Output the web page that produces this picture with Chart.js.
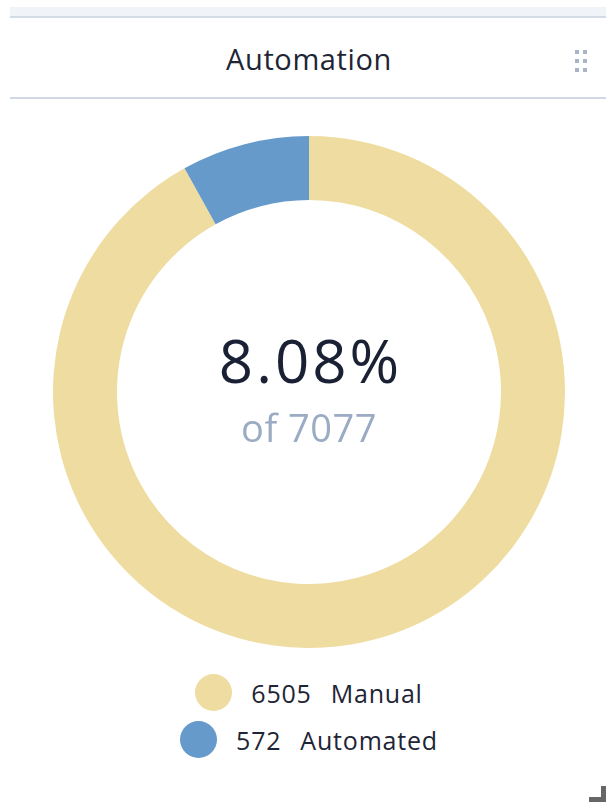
<!DOCTYPE html>
<html>
<head>
<meta charset="utf-8">
<script src="https://cdn.jsdelivr.net/npm/chart.js@4.4.1/dist/chart.umd.min.js"></script>
<style>
  html, body { margin: 0; padding: 0; background: #fff; width: 606px; height: 807px; overflow: hidden; font-family: "Open Sans", "Noto Sans", sans-serif; }
  .topband { position: absolute; left: 10px; top: 7px; width: 596px; height: 9px; background: #f0f4f8; border-bottom: 2px solid #d3dce6; }
  .title { position: absolute; left: 10px; width: 598px; top: 39px; height: 40px; line-height: 40px; text-align: center; font-size: 29px; letter-spacing: 0.6px; color: #1e2535; }
  .hline { position: absolute; left: 10px; top: 97px; width: 596px; height: 2px; background: #cfd8e3; }
  .grip { position: absolute; left: 575px; top: 50px; width: 13px; height: 22px; }
  .grip span { position: absolute; width: 4px; height: 4px; background: #a9b5c7; }
  .chartbox { position: absolute; left: 53px; top: 136px; width: 512px; height: 512px; }
  .center { position: absolute; left: 0; width: 618px; text-align: center; }
  #pct { top: 320px; font-size: 60px; line-height: 80px; letter-spacing: 3px; text-indent: 3px; color: #1a2134; }
  #total { top: 401px; font-size: 38px; line-height: 52px; letter-spacing: 0.5px; color: #9aabc3; }
  .legend { position: absolute; left: 0; top: 669px; width: 618px; }
  .legend .row { display: flex; justify-content: center; align-items: center; height: 47px; font-size: 25px; letter-spacing: 0.8px; color: #1e2535; }
  .legend .dot { width: 37px; height: 37px; border-radius: 50%; margin-right: 19px; }
  .legend .num { margin-right: 19px; }
  .corner { position: absolute; left: 589px; top: 786px; width: 17px; height: 16px; }
  .corner .v { position: absolute; right: 0; top: 0; width: 5px; height: 16px; background: #666; }
  .corner .h { position: absolute; left: 0; bottom: 0; width: 17px; height: 5px; background: #666; }
</style>
</head>
<body>
<div class="topband"></div>
<div class="title">Automation</div>
<div class="grip">
  <span style="left:0;top:0"></span><span style="left:8px;top:0"></span>
  <span style="left:0;top:9px"></span><span style="left:8px;top:9px"></span>
  <span style="left:0;top:18px"></span><span style="left:8px;top:18px"></span>
</div>
<div class="hline"></div>
<div class="chartbox"><canvas id="donut" width="512" height="512"></canvas></div>
<div class="center" id="pct"></div>
<div class="center" id="total"></div>
<div class="legend" id="legend"></div>
<div class="corner"><div class="v"></div><div class="h"></div></div>

<script>
// datos del grafico
const categorias = ['Manual', 'Automated'];
const valores = [6505, 572];
const colores = ['rgb(238, 220, 161)', 'rgb(101, 154, 203)'];

const total = valores.reduce((a, b) => a + b, 0);
document.getElementById('pct').textContent = (valores[1] / total * 100).toFixed(2) + '%';
document.getElementById('total').textContent = 'of ' + total;

const grafico = new Chart(document.getElementById('donut'), {
    type: 'doughnut',
    data: {
        labels: categorias,
        datasets: [{
            data: valores,
            backgroundColor: colores,
            borderWidth: 0
        }]
    },
    options: {
        responsive: false,
        animation: false,
        cutout: '75%',
        layout: { padding: 0 },
        plugins: {
            legend: { display: false },
            tooltip: { enabled: false }
        }
    }
});

// leyenda en html, una fila por categoria
document.getElementById('legend').innerHTML = grafico.data.labels.map((label, i) => `
    <div class="row">
        <div class="dot" style="background:${colores[i]}"></div>
        <span class="num">${valores[i]}</span><span>${label}</span>
    </div>
`).join('');
</script>
</body>
</html>
